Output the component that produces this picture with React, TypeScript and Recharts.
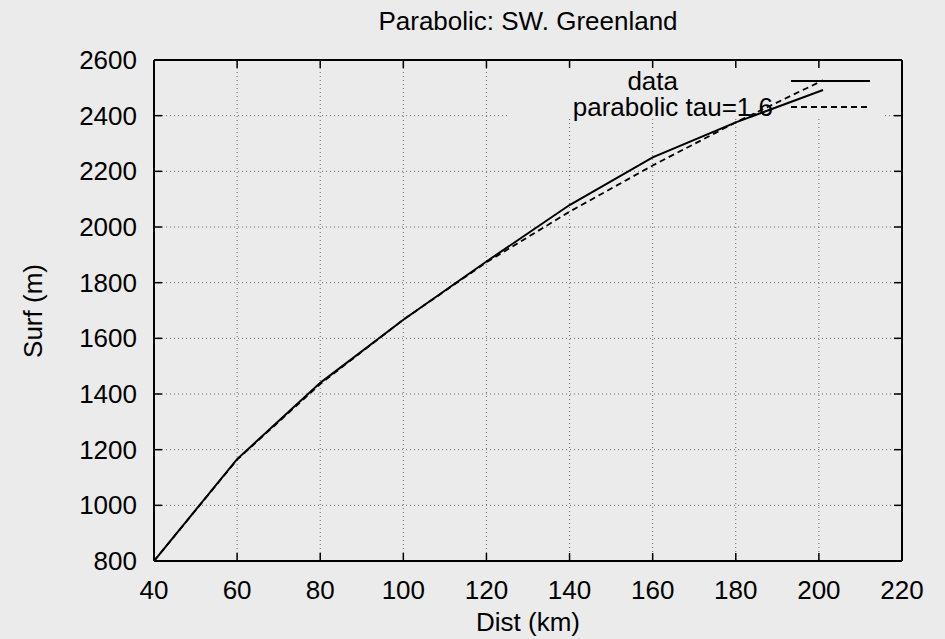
import React from 'react'
import { LineChart, Line, XAxis, YAxis, CartesianGrid, Legend, Label } from 'recharts'

// values (Dist km, Surf m)
const dataDist = [40, 60, 80, 100, 120, 140, 160, 180, 201]
const dataSurf = [800, 1166, 1440, 1667, 1876, 2079, 2250, 2376, 2492]

const paraDist = [40, 60, 80, 100, 120, 140, 160, 180, 201]
const paraSurf = [800, 1164, 1436, 1667, 1873, 2055, 2221, 2376, 2527]

const xTicks = [40, 60, 80, 100, 120, 140, 160, 180, 200, 220]
const yTicks = [800, 1000, 1200, 1400, 1600, 1800, 2000, 2200, 2400, 2600]

const dataSeries = dataDist.map((d, i) => ({ dist: d, surf: dataSurf[i] }))
const paraSeries = paraDist.map((d, i) => ({ dist: d, surf: paraSurf[i] }))

const W = 945
const H = 639
const PLOT = { left: 154, right: 902, top: 60, bottom: 561 }
// gnuplot clears the key area over the grid
const KEY = { left: 508, right: 885, bottom: 119 }
const FONT = '"Liberation Sans", Arial, Helvetica, sans-serif'
const FS = 26
const BG = '#ebebeb'
const GRID = { stroke: '#666', strokeWidth: 1, strokeDasharray: '1 3' }

function gridH(p: any) {
  const { x1, x2, y1 } = p
  if (y1 < KEY.bottom) {
    return (
      <g key={p.key}>
        <line x1={x1} x2={KEY.left} y1={y1} y2={y1} {...GRID} />
        <line x1={KEY.right} x2={x2} y1={y1} y2={y1} {...GRID} />
      </g>
    )
  }
  return <line key={p.key} x1={x1} x2={x2} y1={y1} y2={y1} {...GRID} />
}

function gridV(p: any) {
  const { x1, y1, y2 } = p
  const top = x1 > KEY.left && x1 < KEY.right ? KEY.bottom : y1
  return <line key={p.key} x1={x1} x2={x1} y1={top} y2={y2} {...GRID} />
}

function XTick(p: any) {
  return (
    <g>
      <line x1={p.x} x2={p.x} y1={PLOT.bottom} y2={PLOT.bottom - 8} stroke="#000" strokeWidth={1.5} />
      <line x1={p.x} x2={p.x} y1={PLOT.top} y2={PLOT.top + 8} stroke="#000" strokeWidth={1.5} />
      <text x={p.x} y={PLOT.bottom + 29} textAnchor="middle" dominantBaseline="central" fontSize={FS} fontFamily={FONT} fill="#000">
        {p.payload.value}
      </text>
    </g>
  )
}

function YTick(p: any) {
  return (
    <g>
      <line x1={PLOT.left} x2={PLOT.left + 8} y1={p.y} y2={p.y} stroke="#000" strokeWidth={1.5} />
      <line x1={PLOT.right} x2={PLOT.right - 8} y1={p.y} y2={p.y} stroke="#000" strokeWidth={1.5} />
      <text x={PLOT.left - 17} y={p.y} textAnchor="end" dominantBaseline="central" fontSize={FS} fontFamily={FONT} fill="#000">
        {p.payload.value}
      </text>
    </g>
  )
}

function KeyBox(props: any) {
  const items = props.payload || []
  const rows = [
    { textEnd: 678, y: 81, dash: undefined },
    { textEnd: 773, y: 107, dash: '6 4' },
  ]
  return (
    <svg width={W} height={H} style={{ position: 'absolute', left: 0, top: 0, overflow: 'visible' }}>
      {/* plot border top and right, as gnuplot draws it */}
      <line x1={PLOT.left} x2={PLOT.right} y1={PLOT.top} y2={PLOT.top} stroke="#000" strokeWidth={2} />
      <line x1={PLOT.right} x2={PLOT.right} y1={PLOT.top} y2={PLOT.bottom} stroke="#000" strokeWidth={2} />
      <text x={(PLOT.left + PLOT.right) / 2} y={21} textAnchor="middle" dominantBaseline="central" fontSize={FS} fontFamily={FONT} fill="#000">
        Parabolic: SW. Greenland
      </text>
      {items.map((it: any, i: number) => (
        <g key={i}>
          <text x={rows[i].textEnd} y={rows[i].y} textAnchor="end" dominantBaseline="central" fontSize={FS} fontFamily={FONT} fill="#000">
            {it.value}
          </text>
          <line x1={791} x2={870} y1={rows[i].y} y2={rows[i].y} stroke="#000" strokeWidth={1.8} strokeDasharray={rows[i].dash} />
        </g>
      ))}
    </svg>
  )
}

export default function App() {
  return (
    <div style={{ position: 'absolute', left: 0, top: 0, width: W, height: H, background: BG }}>
      <LineChart width={W} height={H} margin={{ top: PLOT.top, right: W - PLOT.right, bottom: 0, left: 0 }}>
        <CartesianGrid horizontal={gridH} vertical={gridV} />
        <XAxis
          type="number"
          dataKey="dist"
          domain={[40, 220]}
          ticks={xTicks}
          height={H - PLOT.bottom}
          axisLine={{ stroke: '#000', strokeWidth: 2 }}
          tickLine={false}
          tick={<XTick />}
          allowDataOverflow
        >
          <Label
            content={() => (
              <text x={(PLOT.left + PLOT.right) / 2} y={622} textAnchor="middle" dominantBaseline="central" fontSize={FS} fontFamily={FONT} fill="#000">
                Dist (km)
              </text>
            )}
          />
        </XAxis>
        <YAxis
          type="number"
          domain={[800, 2600]}
          ticks={yTicks}
          width={PLOT.left}
          axisLine={{ stroke: '#000', strokeWidth: 2 }}
          tickLine={false}
          tick={<YTick />}
          allowDataOverflow
        >
          <Label
            content={() => (
              <text x={33} y={311} transform="rotate(-90 33 311)" textAnchor="middle" dominantBaseline="central" fontSize={FS} fontFamily={FONT} fill="#000">
                Surf (m)
              </text>
            )}
          />
        </YAxis>
        <Legend
          layout="vertical"
          verticalAlign="middle"
          align="center"
          wrapperStyle={{ left: 0, top: 0, width: W, height: 0 }}
          content={<KeyBox />}
        />
        <Line
          data={dataSeries}
          dataKey="surf"
          name="data"
          type="linear"
          stroke="#000"
          strokeWidth={2}
          dot={false}
          isAnimationActive={false}
        />
        <Line
          data={paraSeries}
          dataKey="surf"
          name="parabolic tau=1.6"
          type="linear"
          stroke="#000"
          strokeWidth={1.8}
          strokeDasharray="6 4"
          dot={false}
          isAnimationActive={false}
        />
      </LineChart>
    </div>
  )
}
